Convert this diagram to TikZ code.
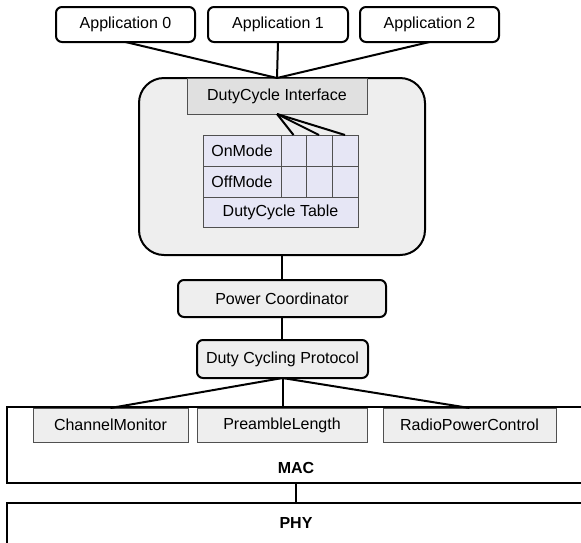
\documentclass[tikz,border=0pt]{standalone}
\usepackage{fontspec}
\setmainfont{Liberation Sans}
\begin{document}
\begin{tikzpicture}[x=1pt,y=-1pt,
  every node/.style={font=\fontsize{16}{19}\selectfont, inner sep=0pt, outer sep=0pt},
  appbox/.style={draw=black, line width=2pt, rounded corners=6pt, fill=white},
  rbox/.style={draw=black, line width=2pt, rounded corners=6pt, fill=boxgray},
  graybox/.style={draw=edgegray, line width=1pt, fill=boxgray},
  cell/.style={draw=edgegray, line width=1pt, fill=tablefill},
  layer/.style={draw=black, line width=2pt, fill=white},
  link/.style={draw=black, line width=2pt}
]
\definecolor{boxgray}{HTML}{EEEEEE}
\definecolor{ifacegray}{HTML}{E0E0E0}
\definecolor{edgegray}{HTML}{505050}
\definecolor{tablefill}{HTML}{E6E6F5}
\useasboundingbox (0,0) rectangle (581,542);
\clip (0,0) rectangle (581,542);

% applications
\node[appbox, minimum width=139pt, minimum height=35pt] (app0) at (125.5,24.5) {Application 0};
\node[appbox, minimum width=140pt, minimum height=35pt] (app1) at (278,24.5) {Application 1};
\node[appbox, minimum width=139pt, minimum height=35pt] (app2) at (429.5,24.5) {Application 2};

% big container
\node[draw=black, line width=2pt, rounded corners=25pt, fill=boxgray, minimum width=286pt, minimum height=177pt] (big) at (282,166.5) {};
\node[draw=edgegray, line width=1pt, fill=ifacegray, minimum width=180pt, minimum height=36pt] (iface) at (277,96) {DutyCycle Interface};

% table
\node[cell, anchor=north west, minimum width=78pt, minimum height=31pt] (on) at (203,135) {OnMode};
\node[cell, anchor=north west, minimum width=78pt, minimum height=31pt] (off) at (203,166) {OffMode};
\node[cell, anchor=north west, minimum width=25pt, minimum height=31pt] (c1) at (281,135) {};
\node[cell, anchor=north west, minimum width=26pt, minimum height=31pt] (c2) at (306,135) {};
\node[cell, anchor=north west, minimum width=26pt, minimum height=31pt] (c3) at (332,135) {};
\node[cell, anchor=north west, minimum width=25pt, minimum height=31pt] (d1) at (281,166) {};
\node[cell, anchor=north west, minimum width=26pt, minimum height=31pt] (d2) at (306,166) {};
\node[cell, anchor=north west, minimum width=26pt, minimum height=31pt] (d3) at (332,166) {};
\node[cell, anchor=north west, minimum width=155pt, minimum height=30pt] (dtable) at (203,197) {DutyCycle Table};

% coordinator and protocol
\node[rbox, minimum width=208pt, minimum height=37pt] (pc) at (282,298.5) {Power Coordinator};
\node[rbox, minimum width=171pt, minimum height=38pt] (dcp) at (282.5,359) {Duty Cycling Protocol};

% MAC and PHY layers
\node[layer, anchor=north west, minimum width=578pt, minimum height=76pt] (mac) at (7,407) {};
\node[font=\fontsize{16}{19}\selectfont\bfseries] (maclbl) at (296,468) {MAC};
\node[layer, anchor=north west, minimum width=578pt, minimum height=60pt] (phy) at (7,503) {};
\node[font=\fontsize{16}{19}\selectfont\bfseries] (phylbl) at (296,523) {PHY};

\node[graybox, minimum width=155pt, minimum height=34pt] (cm) at (110.5,425) {ChannelMonitor};
\node[graybox, minimum width=170pt, minimum height=34pt] (pl) at (282,425) {PreambleLength};
\node[graybox, minimum width=173pt, minimum height=34pt] (rpc) at (469.5,425) {RadioPowerControl};

% connectors
\draw[link] (app0.south) -- (iface.north);
\draw[link] (app1.south) -- (iface.north);
\draw[link] (app2.south) -- (iface.north);
\draw[link] (iface.south) -- (c1.north);
\draw[link] (iface.south) -- (c2.north);
\draw[link] (iface.south) -- (c3.north);
\draw[link] (big.south) -- (pc.north);
\draw[link] (pc.south) -- (pc.south |- dcp.north);
\draw[link] (dcp.south) -- (cm.north);
\draw[link] (dcp.south) -- (dcp.south |- pl.north);
\draw[link] (dcp.south) -- (rpc.north);
\draw[link] (maclbl |- mac.south) -- (maclbl |- phy.north);
\end{tikzpicture}
\end{document}
